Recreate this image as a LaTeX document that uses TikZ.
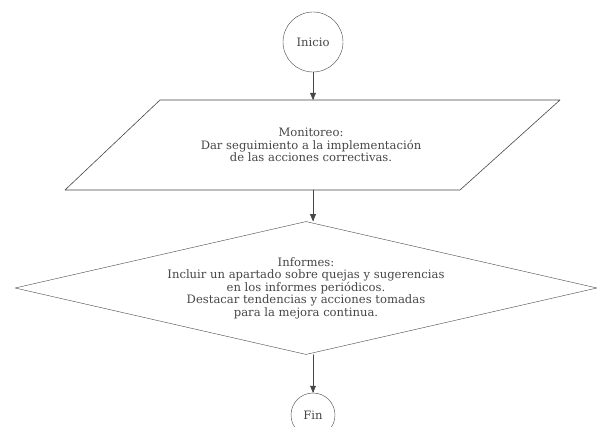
\documentclass[tikz,border=0pt]{standalone}
\usepackage{fontspec}
\setmainfont{DejaVu Serif}
\usetikzlibrary{arrows,shapes.geometric}
\definecolor{ink}{RGB}{70,70,70}

\begin{document}
\begin{tikzpicture}[line cap=round,line join=round,>=triangle 45,x=1pt,y=1pt,
    every node/.style={text=ink,font=\fontsize{11.6}{12.5}\selectfont,align=center},
    term/.style={draw=ink,circle,inner sep=0pt},
    decision/.style={draw=ink,diamond,aspect=4.4,minimum width=582,minimum height=133,inner sep=0pt},
    flow/.style={->,draw=ink,line width=0.6pt}]
    \useasboundingbox (0,0) rectangle (599,-427);
    \node[term,minimum size=60] (inicio) at (313,-42) {Inicio};
    \draw[ink,line width=0.6pt] (160,-100) coordinate (montop) -- (560,-100) -- (460,-190)
      -- (65,-190) coordinate (monbot) -- cycle;
    \node (monitoreo) at (311,-145) {Monitoreo:\\Dar seguimiento a la implementación\\de las acciones correctivas.};
    \node[decision] (informes) at (306,-288) {Informes:\\Incluir un apartado sobre quejas y sugerencias\\en los informes periódicos.\\Destacar tendencias y acciones tomadas\\para la mejora continua.};
    \node[term,minimum size=44] (fin) at (313,-415) {Fin};
    \draw[flow] (inicio) -- (montop -| inicio);
    \draw[flow] (monbot -| inicio) -- (informes.north -| inicio);
    \draw[flow] (informes.south -| inicio) -- (fin);
\end{tikzpicture}
\end{document}
